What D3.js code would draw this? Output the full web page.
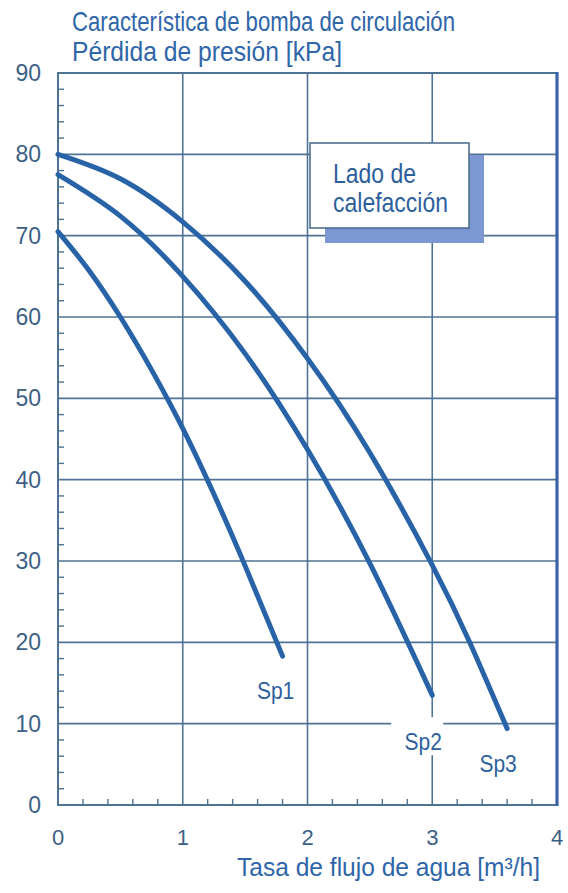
<!DOCTYPE html>
<html>
<head>
<meta charset="utf-8">
<script src="https://cdn.jsdelivr.net/npm/d3@7"></script>
<style>
  body { margin: 0; background: #fff; }
  svg text { font-family: "Liberation Sans", Arial, sans-serif; }
</style>
</head>
<body>
<svg id="chart" width="568" height="893"></svg>
<script>
// values
var seriesNames = ["Sp1", "Sp2", "Sp3"];
var sp1 = [[0, 70.5], [0.25, 65.7], [0.5, 60], [0.75, 53.5], [1, 46.3], [1.25, 38.2], [1.5, 29.4], [1.8, 18.3]];
var sp2 = [[0, 77.5], [0.5, 72.4], [1, 65], [1.5, 55.5], [2, 43.7], [2.5, 29.7], [3, 13.5]];
var sp3 = [[0, 80], [0.5, 77], [1, 71.7], [1.5, 64.4], [2, 54.9], [2.5, 43.3], [3, 29.5], [3.3, 20], [3.6, 9.4]];
var xTicks = [0, 1, 2, 3, 4];
var yTicks = [0, 10, 20, 30, 40, 50, 60, 70, 80, 90];

var titleLines = ["Característica de bomba de circulación", "Pérdida de presión [kPa]"];
var xTitle = "Tasa de flujo de agua [m³/h]";
var boxLines = ["Lado de", "calefacción"];

var gridColor = "#4f7394",
    curveColor = "#2863a7",
    textBlue = "#2f65a9",
    tickColor = "#3d5f85";

var svg = d3.select("#chart");

var x = d3.scaleLinear().domain([0, 4]).range([58, 557]);
var y = d3.scaleLinear().domain([0, 90]).range([805, 73]);

// grid
var g = svg.append("g");
g.selectAll(".vgrid")
  .data([1, 2, 3])
  .enter().append("line")
    .attr("x1", d => x(d)).attr("x2", d => x(d))
    .attr("y1", y(0)).attr("y2", y(90))
    .attr("stroke", gridColor).attr("stroke-width", 1.6);
g.selectAll(".hgrid")
  .data(d3.range(10, 90, 10))
  .enter().append("line")
    .attr("x1", x(0)).attr("x2", x(4))
    .attr("y1", d => y(d)).attr("y2", d => y(d))
    .attr("stroke", gridColor).attr("stroke-width", 1.6);

// minor ticks
g.selectAll(".ymin")
  .data(d3.range(2, 90, 2).filter(d => d % 10 != 0))
  .enter().append("line")
    .attr("x1", x(0)).attr("x2", x(0) + 6)
    .attr("y1", d => y(d)).attr("y2", d => y(d))
    .attr("stroke", gridColor).attr("stroke-width", 1.4);
g.selectAll(".xmin")
  .data(d3.range(1, 20).map(i => i * 0.2).filter((d, i) => (i + 1) % 5 != 0))
  .enter().append("line")
    .attr("x1", d => x(d)).attr("x2", d => x(d))
    .attr("y1", y(0)).attr("y2", y(0) - 6)
    .attr("stroke", gridColor).attr("stroke-width", 1.4);

// frame
g.append("path")
  .attr("d", "M" + x(4) + "," + y(90) + "H" + x(0) + "V" + y(0) + "H" + x(4))
  .attr("fill", "none").attr("stroke", gridColor).attr("stroke-width", 2);
g.append("line")
  .attr("x1", x(4)).attr("x2", x(4)).attr("y1", y(90) - 1).attr("y2", y(0) + 1)
  .attr("stroke", "#3b62a6").attr("stroke-width", 3.2);

// legend box
var bx = 310, by = 143, bw = 159, bh = 85;
svg.append("rect")
  .attr("x", bx + 15).attr("y", by + 12).attr("width", bw).attr("height", bh + 3)
  .attr("fill", "#7d97d2");
svg.append("rect")
  .attr("x", bx).attr("y", by).attr("width", bw).attr("height", bh)
  .attr("fill", "#fff").attr("stroke", "#4f6f90").attr("stroke-width", 1.6);
svg.selectAll(".boxtxt")
  .data(boxLines)
  .enter().append("text")
    .attr("transform", (d, i) => "translate(" + (bx + 23) + "," + (by + 40 + i * 29) + ") scale(1,1.2)")
    .attr("font-size", 23)
    .attr("fill", "#2d5f9d")
    .text(d => d);

// curves
var line = d3.line()
  .x(d => x(d[0]))
  .y(d => y(d[1]))
  .curve(d3.curveNatural);

var series = [sp1, sp2, sp3];
svg.selectAll(".curve")
  .data(series)
  .enter().append("path")
    .attr("d", line)
    .attr("fill", "none")
    .attr("stroke", curveColor)
    .attr("stroke-width", 5)
    .attr("stroke-linecap", "round");

// curve labels
var labelOffsets = [[-7, 43], [-9, 55], [-9, 43]];
var labels = svg.selectAll(".lab")
  .data(seriesNames)
  .enter().append("g")
    .attr("transform", (d, i) => {
      var end = series[i][series[i].length - 1];
      return "translate(" + (x(end[0]) + labelOffsets[i][0]) + "," + (y(end[1]) + labelOffsets[i][1]) + ")";
    });
labels.filter((d, i) => i == 1).append("rect")
  .attr("x", -32).attr("y", -33).attr("width", 52).attr("height", 38)
  .attr("fill", "#fff");
labels.append("text")
  .attr("text-anchor", "middle")
  .attr("transform", "scale(1,1.1)")
  .attr("font-size", 21)
  .attr("fill", "#2d5f9d")
  .text(d => d);

// tick labels
svg.selectAll(".ylab")
  .data(yTicks)
  .enter().append("text")
    .attr("x", 41)
    .attr("y", d => y(d) + 8)
    .attr("text-anchor", "end")
    .attr("font-size", 23)
    .attr("fill", tickColor)
    .text(d => d);
svg.selectAll(".xlab")
  .data(xTicks)
  .enter().append("text")
    .attr("x", d => x(d))
    .attr("y", 845)
    .attr("text-anchor", "middle")
    .attr("font-size", 22)
    .attr("fill", tickColor)
    .text(d => d);

// titles
svg.selectAll(".title")
  .data(titleLines)
  .enter().append("text")
    .attr("transform", (d, i) => "translate(72," + (31 + i * 30) + ") scale(1,1.12)")
    .attr("font-size", 24)
    .attr("fill", textBlue)
    .attr("textLength", (d, i) => i == 0 ? 383 : 270)
    .attr("lengthAdjust", "spacingAndGlyphs")
    .text(d => d);

svg.append("text")
  .attr("transform", "translate(237,876) scale(1,1.15)")
  .attr("font-size", 23)
  .attr("fill", textBlue)
  .attr("textLength", 303)
  .attr("lengthAdjust", "spacingAndGlyphs")
  .text(xTitle);
</script>
</body>
</html>
